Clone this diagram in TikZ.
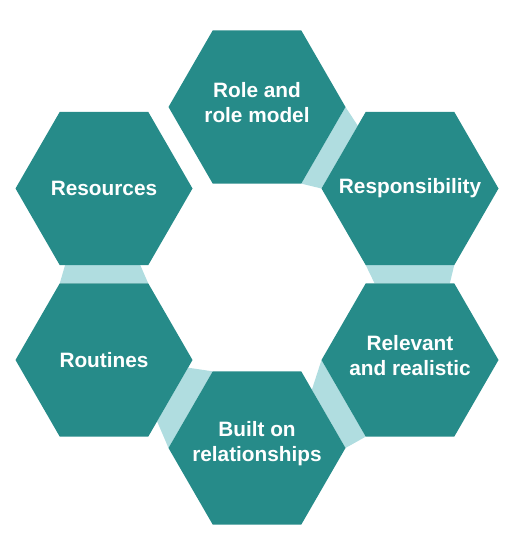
\documentclass[tikz,border=0pt]{standalone}
\usepackage{fontspec}
\setmainfont{Liberation Sans}
\usetikzlibrary{shapes.geometric,calc,backgrounds}

\definecolor{sarcelle}{RGB}{38,139,137}
\definecolor{clair}{RGB}{176,221,224}

\begin{document}
\begin{tikzpicture}[x=1pt,y=-1pt,
    hexa/.style={regular polygon, regular polygon sides=6, minimum size=177pt,
      inner sep=0pt, outer sep=0pt, fill=sarcelle},
    texte/.style={text=white, align=center,
      font=\bfseries\fontsize{20.8}{25}\selectfont},
    deuxlignes/.style={texte, yshift=4pt},
    lien/.style={fill=clair}]
  \useasboundingbox (0,0) rectangle (512,541);

  % Les hexagones (anneau)
  \node[hexa] (Role)  at (257,107)   {};
  \node[hexa] (Resp)  at (410,188.5) {};
  \node[hexa] (Rel)   at (410,360)   {};
  \node[hexa] (Built) at (257,448)   {};
  \node[hexa] (Rout)  at (104,360)   {};
  \node[hexa] (Res)   at (104,188.5) {};

  % Les textes
  \node[deuxlignes] (tRole)  at (Role)  {Role and\\role model};
  \node[texte]      (tResp)  at (Resp)  {Responsibility};
  \node[deuxlignes] (tRel)   at (Rel)   {Relevant\\and realistic};
  \node[deuxlignes] (tBuilt) at (Built) {Built on\\relationships};
  \node[texte]      (tRout)  at (Rout)  {Routines};
  \node[texte]      (tRes)   at (Res)   {Resources};

  % Les liens entre voisins (sous les hexagones)
  \begin{scope}[on background layer]
    \fill[lien] (Role.0) -- (Role.300) -- (Resp.180)
      -- ($(Resp.180)!0.82!(Resp.120)$) -- cycle;
    \fill[lien] (Resp.240) -- (Resp.300)
      -- ($(Rel.60)!0.05!(Rel.120)$) -- ($(Rel.120)!0.1!(Rel.60)$) -- cycle;
    \fill[lien] (Rel.180) -- (Rel.240) -- (Built.0)
      -- ($(Built.0)!0.76!(Built.60)$) -- cycle;
    \fill[lien] ($(Rout.0)!0.1!(Rout.300)$) -- ($(Rout.0)!0.8!(Rout.300)$)
      -- (Built.180) -- (Built.120) -- cycle; % Barre oblique
    \fill[lien] ($(Res.240)!0.06!(Res.300)$) -- ($(Res.240)!0.91!(Res.300)$)
      -- (Rout.60) -- (Rout.120) -- cycle;
  \end{scope}
\end{tikzpicture}
\end{document}
